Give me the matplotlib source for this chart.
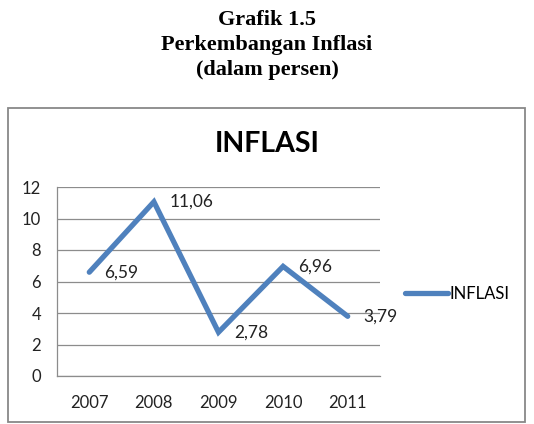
import matplotlib
matplotlib.use("Agg")
import matplotlib.pyplot as plt
from matplotlib.patches import Rectangle

years = ["2007", "2008", "2009", "2010", "2011"]
inflasi = [6.59, 11.06, 2.78, 6.96, 3.79]
labels = ["6,59", "11,06", "2,78", "6,96", "3,79"]
yticks = [0, 2, 4, 6, 8, 10, 12]

W, H = 534, 424
plt.rcParams['font.family'] = ['Lato', 'DejaVu Sans']

fig = plt.figure(figsize=(W / 100, H / 100), dpi=100)

# header in serif bold
header = ["Grafik 1.5", "Perkembangan Inflasi", "(dalam persen)"]
for i, line in enumerate(header):
    fig.text(267 / W, 1 - (20 + 25 * i) / H, line, ha="center", va="center",
             fontsize=16, fontweight="bold", family="Liberation Serif")

# chart box
fig.patches.append(Rectangle((8 / W, 2 / H), 517 / W, 314 / H,
                             transform=fig.transFigure, fill=False,
                             edgecolor="#888888", linewidth=1.3))

fig.text(267 / W, 1 - 144 / H, "INFLASI", ha="center", va="center",
         fontsize=20.5, fontweight="bold")

ax = fig.add_axes([57 / W, (H - 376) / H, (380 - 57) / W, (376 - 187) / H])
x = list(range(len(years)))
line, = ax.plot(x, inflasi, color="#4F81BD", linewidth=3.8,
                solid_joinstyle="miter", solid_capstyle="round", label="INFLASI")
for xi, v, t in zip(x, inflasi, labels):
    ax.annotate(t, (xi, v), xytext=(11, 0), textcoords="offset points",
                ha="left", va="center", fontsize=12.5, color="#222222")

ax.set_xlim(-0.5, len(years) - 0.5)
ax.set_ylim(0, 12)
ax.set_yticks(yticks)
ax.set_xticks(x)
ax.set_xticklabels(years)
ax.yaxis.grid(True, color="#8c8c8c", linewidth=0.9)
ax.set_axisbelow(True)
ax.tick_params(length=0, labelsize=12, colors="#222222")
ax.tick_params(axis="x", pad=14)
ax.tick_params(axis="y", pad=11.5)
for s in ["top", "right"]:
    ax.spines[s].set_visible(False)
for s in ["left", "bottom"]:
    ax.spines[s].set_color("#8c8c8c")
    ax.spines[s].set_linewidth(0.9)

fig.legend(handles=[line], loc="center left", frameon=False,
           bbox_to_anchor=(405 / W, 1 - 294 / H), fontsize=12,
           handlelength=2.6, handletextpad=0.05, borderaxespad=0, borderpad=0)

fig.savefig("out.png", dpi=100)
